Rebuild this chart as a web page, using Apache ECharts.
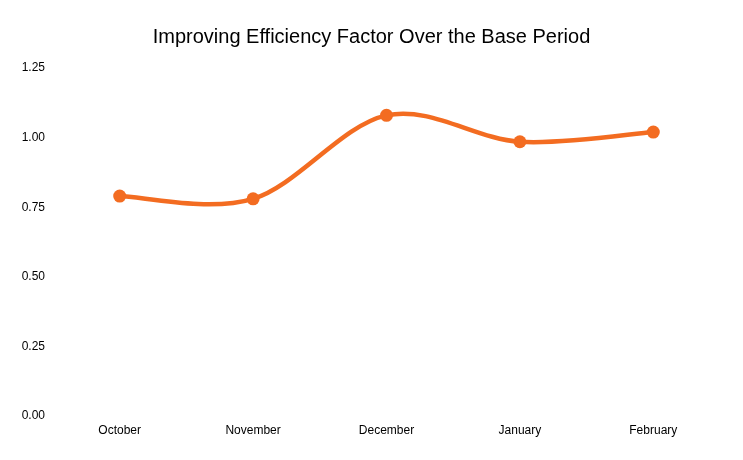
<!DOCTYPE html>
<html><head><meta charset="utf-8">
<script src="https://cdn.jsdelivr.net/npm/echarts@6/dist/echarts.min.js"></script>
<style>html,body{margin:0;padding:0;background:#fff}#c{width:743px;height:460px}</style>
</head><body><div id="c"></div>
<script>
const categories = ['October','November','December','January','February'];
const values = [0.79, 0.78, 1.08, 0.985, 1.02];
const yTicks = {min: 0, max: 1.25, interval: 0.25};
const lineColor = '#F36C21';
const chart = echarts.init(document.getElementById('c'));
function renderItem(params, api) {
  const i = params.dataIndex, n = values.length;
  const P = k => { const kk = Math.max(0, Math.min(n - 1, k)); return api.coord([kk, values[kk]]); };
  const p1 = P(i);
  const children = [];
  if (i < n - 1) {
    const p0 = P(i - 1), p2 = P(i + 1), p3 = P(i + 2);
    const t = 6;
    children.push({
      type: 'bezierCurve', z2: 1,
      shape: {
        x1: p1[0], y1: p1[1], x2: p2[0], y2: p2[1],
        cpx1: p1[0] + (p2[0] - p0[0]) / t, cpy1: p1[1] + (p2[1] - p0[1]) / t,
        cpx2: p2[0] - (p3[0] - p1[0]) / t, cpy2: p2[1] - (p3[1] - p1[1]) / t
      },
      style: {stroke: lineColor, lineWidth: 4.5, fill: null, lineCap: 'round'}
    });
  }
  children.push({type: 'circle', z2: 5, shape: {cx: p1[0], cy: p1[1], r: 6.5}, style: {fill: lineColor}});
  return {type: 'group', children};
}
chart.setOption({
  animation: false,
  backgroundColor: '#fff',
  textStyle: {fontFamily: 'Liberation Sans, Arial, sans-serif'},
  title: {text: 'Improving Efficiency Factor Over the Base Period', left: 'center', top: 22,
    textStyle: {fontSize: 20, fontWeight: 'normal', color: '#000', fontFamily: 'Liberation Sans, Arial, sans-serif'}},
  grid: {left: 53, right: 23, top: 68, bottom: 44},
  xAxis: {type: 'category', data: categories, boundaryGap: true,
    axisLine: {show: false}, axisTick: {show: false}, splitLine: {show: false},
    axisLabel: {color: '#000', fontSize: 12, margin: 9}},
  yAxis: {type: 'value', min: yTicks.min, max: yTicks.max, interval: yTicks.interval,
    axisLine: {show: false}, axisTick: {show: false}, splitLine: {show: false},
    axisLabel: {color: '#000', fontSize: 12, margin: 8, formatter: v => v.toFixed(2)}},
  series: [{type: 'custom', name: 'Efficiency Factor', renderItem: renderItem,
    data: values.map((v, i) => [i, v]), encode: {x: 0, y: 1}, clip: false}]
});
</script></body></html>
